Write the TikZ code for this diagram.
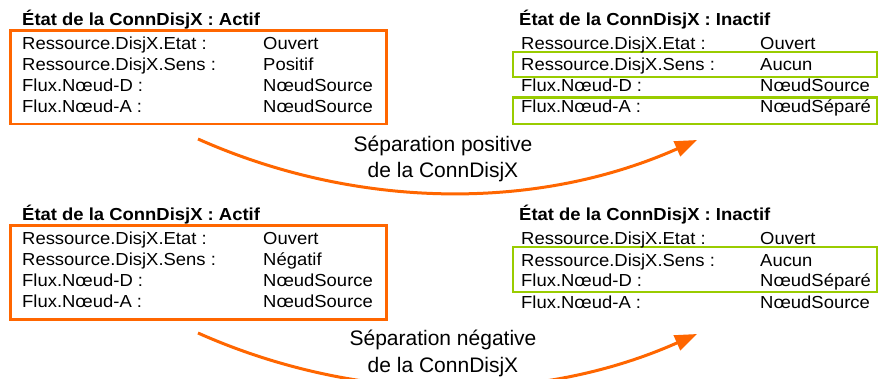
\documentclass[tikz,border=0pt]{standalone}
\usepackage{fontspec}
\setmainfont{Liberation Sans}
\newfontfamily\bodyfont{Liberation Sans}[FakeStretch=1.06]
\newfontfamily\labelfont{Liberation Sans}[FakeStretch=1.0]
\usetikzlibrary{arrows.meta}
\definecolor{orng}{RGB}{255,102,0}
\definecolor{grn}{RGB}{153,204,0}
\tikzset{
  txt/.style={anchor=base west, inner sep=0pt, font=\bodyfont\fontsize{17.4}{19}\selectfont},
  ttl/.style={anchor=base west, inner sep=0pt, font=\bodyfont\bfseries\fontsize{17.4}{19}\selectfont},
  lbl/.style={anchor=base, inner sep=0pt, font=\labelfont\fontsize{21}{23}\selectfont},
  obox/.style={draw=orng, line width=2.5pt, inner sep=0pt},
  gbox/.style={draw=grn, line width=2.5pt, inner sep=0pt},
  arr/.style={draw=orng, line width=3pt, -{Triangle[length=22pt,width=16pt]}}
}
\begin{document}
\begin{tikzpicture}[x=1pt,y=-1pt]
\useasboundingbox (0,0) rectangle (880,379);
\clip (0,0) rectangle (880,379);
% ---------- top left ----------
\node[obox, minimum width=376pt, minimum height=93.5pt] (boxTL) at (198.5,77.5) {};
\node[ttl] (tTL) at (22,26) {État de la ConnDisjX : Actif};
\node[txt] (l1TL) at (22,49.3) {Ressource.DisjX.Etat :};
\node[txt] (v1TL) at (263,49.3) {Ouvert};
\node[txt] (l2TL) at (22,70.4) {Ressource.DisjX.Sens :};
\node[txt] (v2TL) at (263,70.4) {Positif};
\node[txt] (l3TL) at (22,91.5) {Flux.Nœud-D :};
\node[txt] (v3TL) at (263,91.5) {NœudSource};
\node[txt] (l4TL) at (22,112.6) {Flux.Nœud-A :};
\node[txt] (v4TL) at (263,112.6) {NœudSource};
% ---------- top right ----------
\node[gbox, minimum width=364pt, minimum height=25pt] (gA) at (695,64.5) {};
\node[gbox, minimum width=364pt, minimum height=26.5pt] (gB) at (695,110.75) {};
\node[ttl] (tTR) at (519,26) {État de la ConnDisjX : Inactif};
\node[txt] (l1TR) at (521,50) {Ressource.DisjX.Etat :};
\node[txt] (v1TR) at (760,50) {Ouvert};
\node[txt] (l2TR) at (521,71) {Ressource.DisjX.Sens :};
\node[txt] (v2TR) at (760,71) {Aucun};
\node[txt] (l3TR) at (521,92) {Flux.Nœud-D :};
\node[txt] (v3TR) at (760,92) {NœudSource};
\node[txt] (l4TR) at (521,113) {Flux.Nœud-A :};
\node[txt] (v4TR) at (760,113) {NœudSéparé};
% ---------- arrow 1 ----------
\coordinate (a1s) at (198,139);
\coordinate (a1e) at (697,140);
\draw[arr] (a1s) .. controls (357.5,210) and (537.5,211) .. (a1e);
\node[lbl] (lab1a) at (443,151.5) {Séparation positive};
\node[lbl] (lab1b) at (443,178) {de la ConnDisjX};
% ---------- bottom left ----------
\node[obox, minimum width=376pt, minimum height=93.5pt] (boxBL) at (198.5,272.5) {};
\node[ttl] (tBL) at (22,221) {État de la ConnDisjX : Actif};
\node[txt] (l1BL) at (22,244.3) {Ressource.DisjX.Etat :};
\node[txt] (v1BL) at (263,244.3) {Ouvert};
\node[txt] (l2BL) at (22,265.4) {Ressource.DisjX.Sens :};
\node[txt] (v2BL) at (263,265.4) {Négatif};
\node[txt] (l3BL) at (22,286.5) {Flux.Nœud-D :};
\node[txt] (v3BL) at (263,286.5) {NœudSource};
\node[txt] (l4BL) at (22,307.6) {Flux.Nœud-A :};
\node[txt] (v4BL) at (263,307.6) {NœudSource};
% ---------- bottom right ----------
\node[gbox, minimum width=364pt, minimum height=45pt] (gC) at (695,269.5) {};
\node[ttl] (tBR) at (519,221) {État de la ConnDisjX : Inactif};
\node[txt] (l1BR) at (521,245) {Ressource.DisjX.Etat :};
\node[txt] (v1BR) at (760,245) {Ouvert};
\node[txt] (l2BR) at (521,266) {Ressource.DisjX.Sens :};
\node[txt] (v2BR) at (760,266) {Aucun};
\node[txt] (l3BR) at (521,287) {Flux.Nœud-D :};
\node[txt] (v3BR) at (760,287) {NœudSéparé};
\node[txt] (l4BR) at (521,308) {Flux.Nœud-A :};
\node[txt] (v4BR) at (760,308) {NœudSource};
% ---------- arrow 2 ----------
\coordinate (a2s) at (198,333);
\coordinate (a2e) at (697,334);
\draw[arr] (a2s) .. controls (357.5,404) and (537.5,405) .. (a2e);
\node[lbl] (lab2a) at (443,345.5) {Séparation négative};
\node[lbl] (lab2b) at (443,372) {de la ConnDisjX};
\end{tikzpicture}
\end{document}
